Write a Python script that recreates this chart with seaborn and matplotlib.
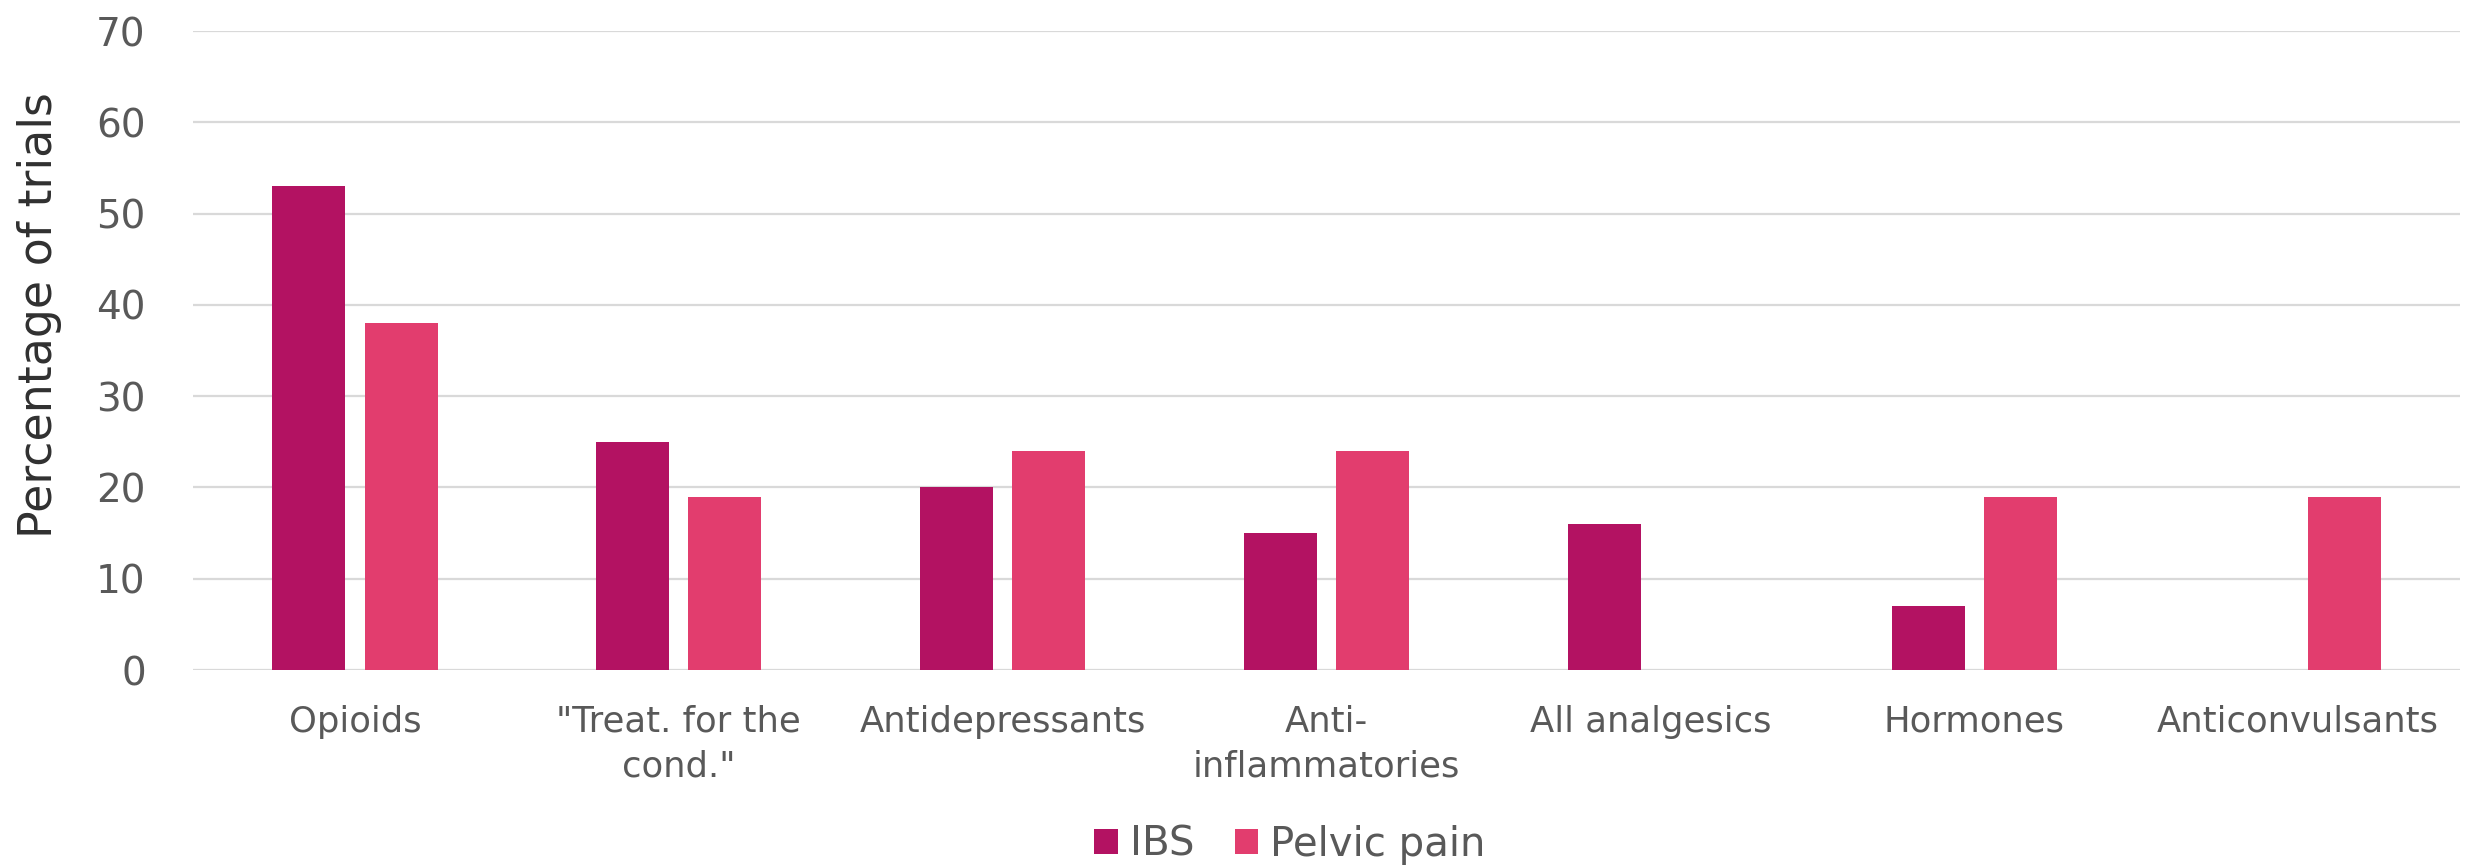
import numpy as np
import pandas as pd
import matplotlib
matplotlib.use("Agg")
import matplotlib.pyplot as plt
from matplotlib.patches import Patch
import seaborn as sns

# Drug classes studied, share of trials (%) per condition
categories = [
    "Opioids",
    '"Treat. for the\ncond."',
    "Antidepressants",
    "Anti-\ninflammatories",
    "All analgesics",
    "Hormones",
    "Anticonvulsants",
]
ibs = [53, 25, 20, 15, 16, 7, np.nan]
pelvic_pain = [38, 19, 24, 24, np.nan, 19, 19]
groups = ["IBS", "Pelvic pain"]
colors = ["#B31262", "#E23D6E"]
y_ticks = [0, 10, 20, 30, 40, 50, 60, 70]

df = pd.DataFrame({
    "category": categories * 2,
    "value": ibs + pelvic_pain,
    "group": [groups[0]] * len(categories) + [groups[1]] * len(categories),
})

sns.set_theme(style="white")
plt.rcParams["font.family"] = ["DejaVu Sans"]

text_gray = "#595959"
grid_gray = "#D9D9D9"

fig = plt.figure(figsize=(24.73, 8.68), dpi=100)
ax = fig.add_axes([193 / 2473, 1 - 670 / 868, (2460 - 193) / 2473, (670 - 31) / 868])

sns.barplot(
    data=df, x="category", y="value", hue="group",
    order=categories, hue_order=groups, palette=colors,
    width=0.57, gap=0.21, errorbar=None, legend=False,
    edgecolor="none", linewidth=0, saturation=1, ax=ax, zorder=3,
)

ax.set_xlim(-0.5, len(categories) - 0.5)
ax.set_ylim(0, 70)
ax.set_yticks(y_ticks)
ax.grid(axis="y", color=grid_gray, linewidth=1.6, zorder=0)
ax.grid(axis="x", visible=False)
ax.set_axisbelow(True)
for s in ax.spines.values():
    s.set_visible(False)

ax.tick_params(axis="y", length=0, pad=34, labelsize=28, labelcolor=text_gray)
ax.tick_params(axis="x", length=0, pad=25, labelsize=25.5, labelcolor=text_gray)
for lbl in ax.get_xticklabels():
    lbl.set_linespacing(1.4)

ax.set_xlabel("")
ax.set_ylabel("Percentage of trials", fontsize=33, color="#303030")
ax.yaxis.set_label_coords(-0.0578, 0.556)

handles = [Patch(facecolor=c, edgecolor="none", label=g) for g, c in zip(groups, colors)]
fig.legend(
    handles=handles, loc="center", bbox_to_anchor=(1290 / 2473, 1 - 845 / 868),
    ncol=2, frameon=False, fontsize=29, labelcolor=text_gray,
    handlelength=0.58, handleheight=0.58, handletextpad=0.3, columnspacing=1.0,
)

fig.savefig("out.png", dpi=100, facecolor="white")
